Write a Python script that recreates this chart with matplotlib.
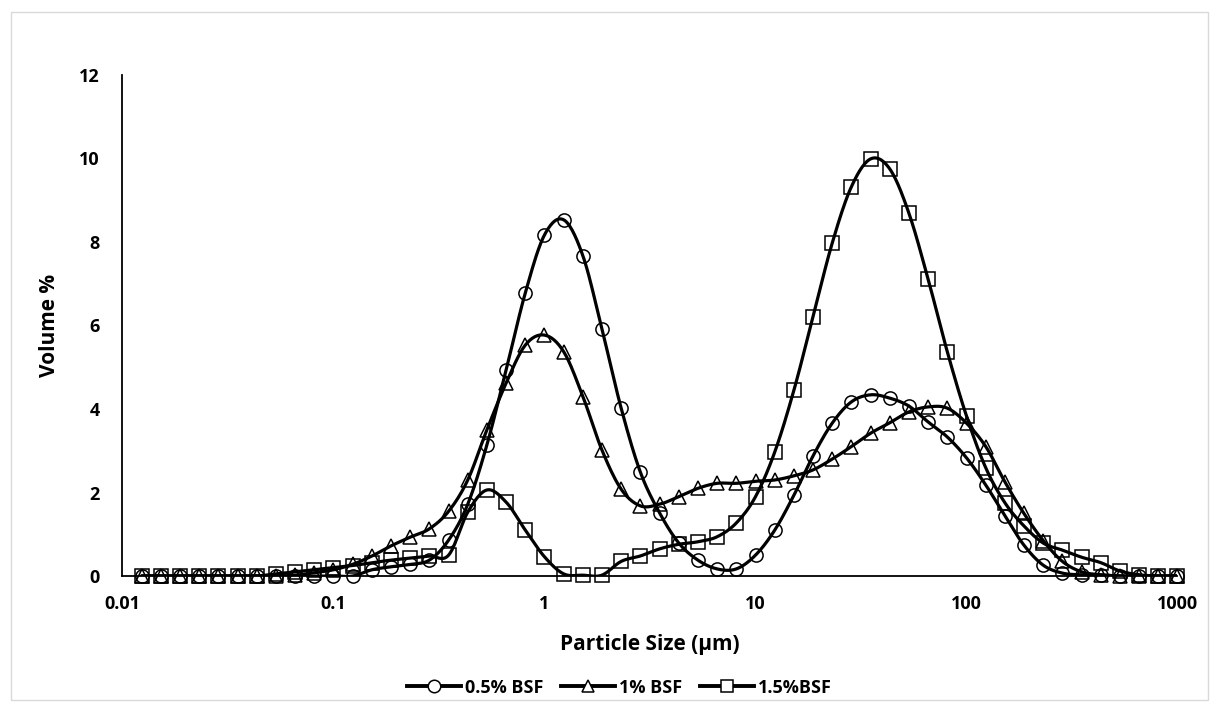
import numpy as np
import matplotlib
matplotlib.use("Agg")
import matplotlib.pyplot as plt
from matplotlib.lines import Line2D
from matplotlib.patches import Rectangle

plt.rcParams['font.family'] = ['Open Sans', 'DejaVu Sans']
plt.rcParams['font.weight'] = 'bold'

# particle size classes (um)
sizes = [0.0124, 0.0153, 0.0188, 0.0232, 0.0286, 0.0353, 0.0435, 0.0536, 0.0661, 0.0815,
         0.1005, 0.124, 0.153, 0.188, 0.232, 0.286, 0.353, 0.435, 0.536, 0.661,
         0.815, 1.005, 1.24, 1.53, 1.88, 2.32, 2.86, 3.53, 4.35, 5.36,
         6.61, 8.15, 10.05, 12.4, 15.3, 18.8, 23.2, 28.6, 35.3, 43.5,
         53.6, 66.1, 81.5, 100.5, 124, 153, 188, 232, 286, 353,
         435, 536, 661, 813, 1000]

bsf_05 = [0, 0, 0, 0, 0, 0, 0, 0, 0, 0,
          0, 0, 0.15, 0.22, 0.28, 0.38, 0.86, 1.72, 3.14, 4.93,
          6.78, 8.17, 8.53, 7.66, 5.92, 4.02, 2.49, 1.51, 0.79, 0.38,
          0.17, 0.17, 0.5, 1.1, 1.94, 2.87, 3.66, 4.17, 4.34, 4.26,
          4.07, 3.69, 3.33, 2.83, 2.18, 1.44, 0.74, 0.26, 0.07, 0.03,
          0.02, 0, 0, 0, 0]

bsf_1 = [0, 0, 0, 0, 0, 0, 0, 0, 0.02, 0.08,
         0.15, 0.28, 0.48, 0.72, 0.93, 1.13, 1.55, 2.3, 3.5, 4.62,
         5.53, 5.77, 5.37, 4.29, 3.02, 2.08, 1.68, 1.72, 1.9, 2.1,
         2.22, 2.22, 2.27, 2.3, 2.4, 2.54, 2.8, 3.1, 3.42, 3.67,
         3.93, 4.05, 4.02, 3.66, 3.1, 2.25, 1.5, 0.85, 0.35, 0.1,
         0.03, 0, 0, 0, 0]

bsf_15 = [0, 0, 0, 0, 0, 0, 0, 0.05, 0.1, 0.15,
          0.2, 0.25, 0.32, 0.38, 0.43, 0.48, 0.5, 1.53, 2.06, 1.77,
          1.1, 0.46, 0.05, 0.02, 0.02, 0.35, 0.48, 0.65, 0.76, 0.82,
          0.94, 1.27, 1.9, 2.97, 4.46, 6.2, 7.97, 9.32, 9.99, 9.75,
          8.69, 7.11, 5.37, 3.83, 2.59, 1.75, 1.2, 0.79, 0.62, 0.45,
          0.32, 0.12, 0.03, 0, 0]

labels = ['0.5% BSF', '1% BSF', '1.5%BSF']
markers = ['o', '^', 's']


def smooth(xs, ys, n=16):
    # catmull-rom in (log x, y), close to excel's smoothed line
    pts = np.column_stack([np.log10(xs), ys])
    pad = np.vstack([pts[0], pts, pts[-1]])
    t = np.linspace(0, 1, n, endpoint=False)[:, None]
    out = []
    for i in range(len(pts) - 1):
        p0, p1, p2, p3 = pad[i], pad[i + 1], pad[i + 2], pad[i + 3]
        seg = 0.5 * ((2 * p1) + (-p0 + p2) * t
                     + (2 * p0 - 5 * p1 + 4 * p2 - p3) * t ** 2
                     + (-p0 + 3 * p1 - 3 * p2 + p3) * t ** 3)
        out.append(seg)
    out.append(pts[-1:])
    out = np.vstack(out)
    return 10 ** out[:, 0], out[:, 1]


fig = plt.figure(figsize=(12.19, 7.04), dpi=100)
ax = fig.add_axes([0.1001, 0.1818, 0.8655, 0.7117])

handles = []
for ys, m, lab in zip([bsf_05, bsf_1, bsf_15], markers, labels):
    sx, sy = smooth(sizes, ys)
    ax.plot(sx, sy, color='black', lw=2.3, solid_capstyle='round')
    ax.plot(sizes, ys, ls='none', marker=m, ms=9.5, mfc='none', mec='black',
            mew=1.1, clip_on=False)
    handles.append(Line2D([], [], color='black', lw=2.8, marker=m, ms=9,
                          mfc='white', mec='black', mew=1.1))

ax.set_xscale('log')
ax.set_xlim(0.01, 1000)
ax.set_ylim(0, 12)
ax.set_xticks([0.01, 0.1, 1, 10, 100, 1000])
ax.set_xticklabels(['0.01', '0.1', '1', '10', '100', '1000'])
ax.xaxis.set_minor_locator(matplotlib.ticker.NullLocator())
ax.set_yticks([0, 2, 4, 6, 8, 10, 12])
for lab in ax.get_xticklabels() + ax.get_yticklabels():
    lab.set_fontweight('bold')
ax.tick_params(axis='both', length=0, labelsize=13)
ax.tick_params(axis='y', pad=16)
ax.tick_params(axis='x', pad=14)

for s in ['top', 'right']:
    ax.spines[s].set_visible(False)
for s in ['left', 'bottom']:
    ax.spines[s].set_linewidth(1.3)

ax.set_xlabel('Particle Size (\u03bcm)', fontsize=15, fontweight='bold', labelpad=15)
ax.set_ylabel('Volume %', fontsize=15, fontweight='bold', labelpad=14)

leg = fig.legend(handles, labels, loc='center', bbox_to_anchor=(0.508, 0.023), ncol=3,
                 frameon=False, handlelength=3.0, columnspacing=1.0,
                 handletextpad=0.2, prop={'weight': 'bold', 'size': 13})

fig.patches.append(Rectangle((0.009, 0.006), 0.982, 0.977, transform=fig.transFigure,
                             fill=False, edgecolor='#d9d9d9', lw=1.0))

fig.savefig('out.png', dpi=100)
